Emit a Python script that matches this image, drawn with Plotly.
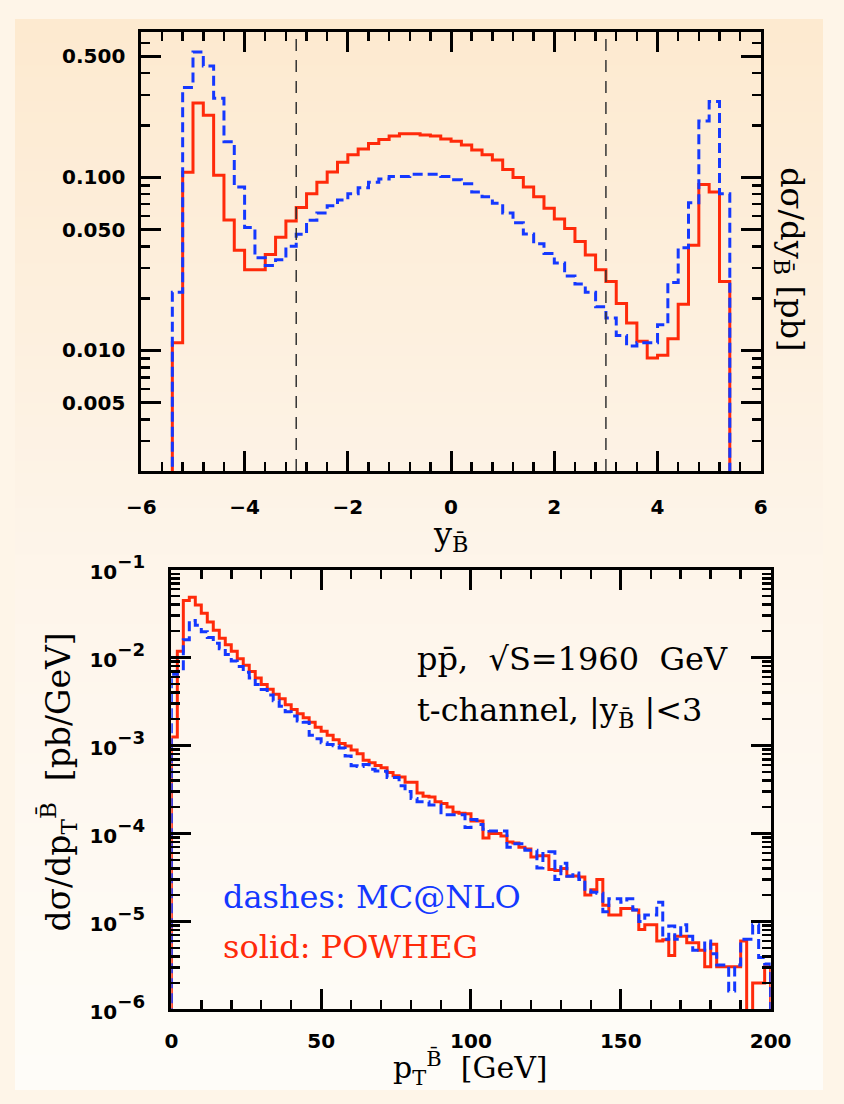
import numpy as np
import plotly.graph_objects as go

# ---------------- data ----------------
# top panel: d sigma / d y_Bbar  [pb], bins of 0.2 from -5.4 to 5.4
Y_BIN_START = -5.4
Y_BIN_WIDTH = 0.2
y_powheg = [0.0111, 0.107, 0.269, 0.229, 0.103, 0.0567, 0.038, 0.0293, 0.0293, 0.0359,
            0.0451, 0.056, 0.067, 0.0806, 0.0937, 0.1076, 0.1225, 0.135, 0.146, 0.157,
            0.1655, 0.1735, 0.1787, 0.1787, 0.176, 0.1735, 0.167, 0.162, 0.154, 0.144,
            0.135, 0.126, 0.111, 0.100, 0.0879, 0.0773, 0.0664, 0.0576, 0.0507, 0.0427,
            0.0356, 0.0293, 0.025, 0.0187, 0.0144, 0.0113, 0.00905, 0.00937, 0.0117, 0.0185,
            0.0405, 0.091, 0.0824, 0.025]
y_mcatnlo = [0.0217, 0.331, 0.531, 0.441, 0.287, 0.161, 0.0879, 0.0513, 0.0343, 0.031,
             0.0334, 0.040, 0.047, 0.0566, 0.0622, 0.0685, 0.074, 0.0806, 0.0871, 0.0937,
             0.098, 0.1013, 0.1013, 0.1044, 0.1044, 0.1044, 0.1013, 0.097, 0.0918, 0.0824,
             0.0773, 0.0709, 0.0622, 0.0547, 0.0471, 0.0414, 0.0364, 0.032, 0.0269, 0.0242,
             0.0217, 0.0179, 0.0154, 0.0122, 0.0106, 0.0111, 0.0111, 0.0141, 0.0247, 0.0392,
             0.0715, 0.212, 0.275, 0.0806]

# bottom panel: d sigma / d pT  [pb/GeV], bins of 2 GeV from 0 to 200
PT_BIN_START = 0.0
PT_BIN_WIDTH = 2.0
pt_powheg = [1.25e-3, 1.18e-2, 4.48e-2, 4.87e-2, 3.97e-2, 3.19e-2, 2.54e-2, 2.05e-2, 1.66e-2, 1.40e-2,
             1.18e-2, 9.74e-3, 8.22e-3, 6.95e-3, 5.87e-3, 4.95e-3, 4.39e-3, 3.84e-3, 3.41e-3, 2.92e-3,
             2.58e-3, 2.31e-3, 2.08e-3, 1.84e-3, 1.62e-3, 1.46e-3, 1.31e-3, 1.17e-3, 1.06e-3, 9.9e-4,
             8.93e-4, 8.07e-4, 6.82e-4, 6.4e-4, 5.94e-4, 5.62e-4, 4.94e-4, 4.54e-4, 4.4e-4, 3.83e-4,
             3.83e-4, 2.9e-4, 2.65e-4, 2.6e-4, 2.3e-4, 2.2e-4, 2.0e-4, 1.75e-4, 1.7e-4, 1.68e-4,
             1.39e-4, 1.39e-4, 8.9e-5, 1.0e-4, 1.0e-4, 9.4e-5, 8.0e-5, 7.8e-5, 7.0e-5, 6.7e-5,
             5.4e-5, 5.6e-5, 5.6e-5, 3.9e-5, 3.8e-5, 4.0e-5, 3.3e-5, 3.3e-5, 3.2e-5, 2.0e-5,
             2.3e-5, 3.0e-5, 1.53e-5, 1.19e-5, 1.19e-5, 1.41e-5, 1.41e-5, 1.35e-5, 8.1e-6, 9.2e-6,
             9.2e-6, 6.0e-6, 6.2e-6, 4.1e-6, 6.8e-6, 6.8e-6, 5.75e-6, 5.75e-6, 4.7e-6, 3.06e-6,
             5.5e-6, 3.06e-6, 3.06e-6, 3.06e-6, 3.06e-6, 6.0e-6, 1e-9, 2.0e-6, 2.0e-6, 3.06e-6]
pt_mcatnlo = [6.5e-3, 7.0e-3, 1.6e-2, 2.64e-2, 2.33e-2, 1.97e-2, 1.70e-2, 1.46e-2, 1.26e-2, 1.09e-2,
              9.19e-3, 7.95e-3, 6.83e-3, 5.86e-3, 4.95e-3, 4.36e-3, 3.77e-3, 3.24e-3, 2.80e-3, 2.42e-3,
              2.17e-3, 1.91e-3, 1.84e-3, 1.31e-3, 1.20e-3, 1.08e-3, 1.03e-3, 1.0e-3, 9.4e-4, 7.6e-4,
              5.9e-4, 5.8e-4, 6.1e-4, 5.4e-4, 5.15e-4, 5.1e-4, 4.35e-4, 4.35e-4, 3.5e-4, 3.0e-4,
              2.5e-4, 2.3e-4, 2.3e-4, 2.12e-4, 2.12e-4, 1.64e-4, 1.64e-4, 1.64e-4, 1.64e-4, 1.17e-4,
              1.45e-4, 1.27e-4, 1.12e-4, 1.07e-4, 1.07e-4, 1.07e-4, 7.0e-5, 7.65e-5, 7.65e-5, 6.45e-5,
              6.45e-5, 4.05e-5, 5.94e-5, 6.2e-5, 3.0e-5, 4.6e-5, 3.28e-5, 3.57e-5, 3.0e-5, 2.24e-5,
              2.15e-5, 2.1e-5, 1.29e-5, 1.81e-5, 1.81e-5, 1.66e-5, 1.81e-5, 1.35e-5, 1.0e-5, 1.19e-5,
              1.19e-5, 1.66e-5, 6.3e-6, 8.9e-6, 6.3e-6, 9.2e-6, 6.8e-6, 4.7e-6, 4.7e-6, 6.0e-6,
              4.3e-6, 3.2e-6, 3.2e-6, 1.62e-6, 3.2e-6, 6.3e-6, 6.3e-6, 9.2e-6, 3.9e-6, 3.3e-6]

cut_lines = [-3, 3]
top_ytick_vals = [0.005, 0.01, 0.05, 0.1, 0.5]
top_ytick_text = ["0.005", "0.010", "0.050", "0.100", "0.500"]
bot_ytick_exps = [1, 2, 3, 4, 5, 6]

# ---------------- style ----------------
RED = "#ff2a0a"
BLUE = "#1438ff"
W, H = 844, 1104
FLOOR = 1e-9


def edges(start, width, n):
    return [round(start + width * i, 6) for i in range(n + 1)]


def step_xy(e, v):
    x = [e[0]] + list(e) + [e[-1]]
    y = [FLOOR] + list(v) + [v[-1], FLOOR]
    return x, y


fig = go.Figure()

# background gradient (peach at top to near-white at bottom), drawn as thin bands
top_rgb = np.array([253, 234, 208])
mid_rgb = np.array([254, 245, 234])
bot_rgb = np.array([255, 253, 249])
NBANDS = 92
for i in range(NBANDS):
    t = (i + 0.5) / NBANDS
    c = top_rgb + (mid_rgb - top_rgb) * (t / 0.5) if t < 0.5 else mid_rgb + (bot_rgb - mid_rgb) * ((t - 0.5) / 0.5)
    fig.add_shape(type="rect", xref="paper", yref="paper", x0=0, x1=1,
                  y0=max(0.0, 1 - (i + 1) / NBANDS - 0.002), y1=1 - i / NBANDS,
                  fillcolor=f"rgb({int(c[0])},{int(c[1])},{int(c[2])})", line=dict(width=0), layer="below")

e_top = edges(Y_BIN_START, Y_BIN_WIDTH, len(y_powheg))
e_bot = edges(PT_BIN_START, PT_BIN_WIDTH, len(pt_powheg))

for vals, color, dash, xa, ya, e in [
    (y_powheg, RED, "solid", "x", "y", e_top),
    (y_mcatnlo, BLUE, "10px,5px", "x", "y", e_top),
    (pt_powheg, RED, "solid", "x2", "y2", e_bot),
    (pt_mcatnlo, BLUE, "10px,5px", "x2", "y2", e_bot),
]:
    xs, ys = step_xy(e, vals)
    fig.add_trace(go.Scatter(x=xs, y=ys, mode="lines", xaxis=xa, yaxis=ya,
                             line=dict(color=color, width=3, shape="hv", dash=dash),
                             showlegend=False, hoverinfo="skip"))

for xc in cut_lines:
    fig.add_shape(type="line", xref="x", yref="y domain", x0=xc, x1=xc, y0=0, y1=1,
                  line=dict(color="#333333", width=1.5, dash="12px,9px"), layer="above")

tickfont = dict(family="DejaVu Sans", size=20, color="black", weight="bold")
common = dict(showline=True, linecolor="black", linewidth=3, mirror="ticks",
              ticks="inside", ticklen=20, tickwidth=3, tickcolor="black",
              showgrid=False, zeroline=False, tickfont=tickfont)
minor_common = dict(ticks="inside", ticklen=9, tickwidth=2.5, tickcolor="black", showgrid=False)

top_minor = [m * 10.0 ** d for d in (-3, -2, -1) for m in (2, 3, 4, 6, 7, 8, 9)]
top_minor = [v for v in top_minor if 0.002 <= v <= 0.69]

bot_tickfont = dict(family="DejaVu Sans", size=26, color="black", weight="bold")
bot_common = dict(common)
bot_common["tickfont"] = bot_tickfont

fig.update_layout(
    width=W, height=H, autosize=False,
    margin=dict(l=0, r=0, t=0, b=0, pad=0),
    paper_bgcolor="#fef5e8", plot_bgcolor="rgba(0,0,0,0)",
    xaxis=dict(domain=[132 / W, 779 / W], anchor="y", range=[-6, 6], dtick=2, tick0=0,
               minor=dict(dtick=0.4, tick0=0, **minor_common), ticklabelstandoff=16, **common),
    yaxis=dict(domain=[1 - 466 / H, 1 - 13 / H], anchor="x", type="log",
               range=[np.log10(0.00201), np.log10(0.696)],
               tickmode="array", tickvals=top_ytick_vals, ticktext=top_ytick_text,
               minor=dict(tickmode="array", tickvals=top_minor, **minor_common),
               ticklabelstandoff=9, **common),
    xaxis2=dict(domain=[163.3 / W, 789.3 / W], anchor="y2", range=[0, 200], dtick=50, tick0=0,
                minor=dict(dtick=10, tick0=0, **minor_common), ticklabelstandoff=12, **common),
    yaxis2=dict(domain=[1 - 1021 / H, 1 - 567.7 / H], anchor="x2", type="log", range=[-6, -1],
                tickmode="array", tickvals=[10.0 ** -k for k in bot_ytick_exps],
                ticktext=[f"<span style='font-size:20px'>10</span><sup>\u2212{k}</sup>" for k in bot_ytick_exps],
                minor=dict(dtick="D1", **minor_common), ticklabelstandoff=18, **bot_common),
)

serif = "DejaVu Serif"
NB = "\u00a0"
ann = [
    dict(text="y<sub>B\u0304</sub>", x=455 / W, y=1 - 533 / H, size=32, angle=0, color="black", xa="center"),
    dict(text=f"d\u03c3/dy<sub>B\u0304</sub>{NB}[pb]", x=810 / W, y=1 - 248 / H, size=32, angle=90,
         color="black", xa="center"),
    dict(text=f"d\u03c3/dp<sub>T</sub><sup>B\u0304</sup>{NB}{NB}[pb/GeV]", x=45 / W, y=1 - 787 / H, size=33,
         angle=-90, color="black", xa="center"),
    dict(text=f"p<sub>T</sub><sup>B\u0304</sup>{NB}{NB}[GeV]", x=476 / W, y=1 - 1081 / H, size=30, angle=0,
         color="black", xa="center"),
    dict(text=f"pp\u0304,{NB}{NB}\u221aS=1960{NB}{NB}GeV", x=418 / W, y=1 - 660 / H, size=32, angle=0,
         color="black", xa="left"),
    dict(text=f"t-channel,{NB}|y<sub>B\u0304</sub>{NB}|<3", x=418 / W, y=1 - 714 / H, size=32, angle=0,
         color="black", xa="left"),
    dict(text=f"dashes:{NB}MC@NLO", x=215 / W, y=1 - 905 / H, size=32, angle=0, color=BLUE, xa="left"),
    dict(text=f"solid:{NB}POWHEG", x=215 / W, y=1 - 957 / H, size=32, angle=0, color=RED, xa="left"),
]
for a in ann:
    fig.add_annotation(text=a["text"], x=a["x"], y=a["y"], xref="paper", yref="paper",
                       xanchor=a["xa"], yanchor="middle", showarrow=False, textangle=a["angle"],
                       font=dict(family=serif, size=a["size"], color=a["color"]))

post = ("document.documentElement.style.margin='0';document.body.style.margin='0';"
        "document.body.style.padding='0';")
fig.write_html("out.html", config={"staticPlot": True, "displayModeBar": False}, post_script=post)
